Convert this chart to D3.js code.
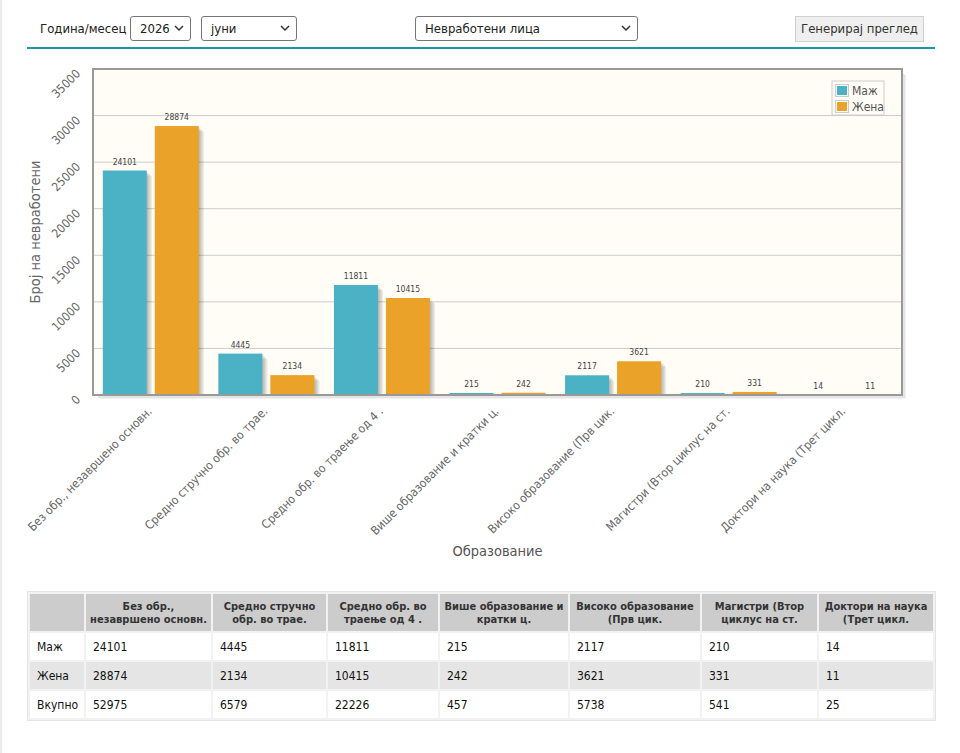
<!DOCTYPE html>
<html><head><meta charset="utf-8">
<script src="https://cdn.jsdelivr.net/npm/d3@7"></script>
<style>
body{margin:0;background:#fff;width:960px;height:753px;position:relative;overflow:hidden;font-family:"DejaVu Sans Condensed","DejaVu Sans",sans-serif;font-stretch:condensed;color:#222;}
.edge{position:absolute;left:0;top:0;width:2px;height:753px;background:#ebebeb;}
.lbl{position:absolute;left:40px;top:20px;font-size:13px;line-height:18px;color:#222;}
.sel{position:absolute;top:16px;height:23px;border:1px solid #767676;border-radius:3px;background:#fff;font-size:13px;line-height:23px;box-sizing:content-box;}
.sel span{position:absolute;left:9px;top:0;}
.sel svg{position:absolute;right:6px;top:8px;}
.btn{position:absolute;left:795px;top:16px;width:127px;height:24px;background:#efefef;border:1px solid #d0d0d0;font-size:13px;line-height:24px;text-align:center;color:#333;}
.rule{position:absolute;left:27px;top:47px;width:908px;height:2px;background:#1a97aa;}
#chart{position:absolute;left:0;top:0;}
table{position:absolute;left:27px;top:591px;border-collapse:separate;border-spacing:2px;border:1px solid #e4e4e4;background:#f2f2f2;table-layout:fixed;font-size:12px;}
th{background:#cccccc;font-weight:bold;font-size:11px;line-height:13px;color:#333;height:37px;padding:0 1px;text-align:center;}
td{height:27px;padding:0 0 0 7px;text-align:left;color:#111;}
tr.r1 td{background:#fff;}
tr.r2 td{background:#e5e5e5;}
tr.r3 td{background:#fff;}
</style></head><body>
<div class="edge"></div>
<div class="lbl">Година/месец</div>
<div class="sel" style="left:130px;width:59px;"><span>2026</span><svg width="10" height="7"><path d="M1,1 L5,5 L9,1" fill="none" stroke="#333" stroke-width="1.5"/></svg></div>
<div class="sel" style="left:201px;width:94px;"><span>јуни</span><svg width="10" height="7"><path d="M1,1 L5,5 L9,1" fill="none" stroke="#333" stroke-width="1.5"/></svg></div>
<div class="sel" style="left:415px;width:221px;"><span>Невработени лица</span><svg width="10" height="7"><path d="M1,1 L5,5 L9,1" fill="none" stroke="#333" stroke-width="1.5"/></svg></div>
<div class="btn">Генерирај преглед</div>
<div class="rule"></div>
<svg id="chart" width="960" height="580"></svg>
<table id="tbl"></table>
<script>
const categories = ["Без обр., незавршено основн.","Средно стручно обр. во трае.","Средно обр. во траење од 4 .","Више образование и кратки ц.","Високо образование (Прв цик.","Магистри (Втор циклус на ст.","Доктори на наука (Трет цикл."];
const tableHeaders = ["Без обр., незавршено основн.","Средно стручно обр. во трае.","Средно обр. во траење од 4 .","Више образование и кратки ц.","Високо образование (Прв цик.","Магистри (Втор циклус на ст.","Доктори на наука (Трет цикл."];
const seriesNames = ["Маж","Жена"];
const male = [24101,4445,11811,215,2117,210,14];
const female = [28874,2134,10415,242,3621,331,11];
const total = [52975,6579,22226,457,5738,541,25];
const yTicks = [0,5000,10000,15000,20000,25000,30000,35000];
const colors = ["#4bb2c5","#EAA228"];

const svg = d3.select("#chart");
const L=93,R=902,T=69,B=395;
const x0 = d3.scaleBand().domain(categories).range([L,R]).padding(0);
const x1 = d3.scaleBand().domain(seriesNames).range([-48,48]).paddingInner(0.1538);
const y = d3.scaleLinear().domain([0,35000]).range([B,T]);
const font = '"DejaVu Sans Condensed","DejaVu Sans",sans-serif';

for(let j=1;j<=3;j++){
  svg.append("path").attr("d",`M${R+j},${T+3+j} L${R+j},${B+j} L${L+3+j},${B+j}`)
    .attr("fill","none").attr("stroke","#000").attr("stroke-opacity",0.07).attr("stroke-width",1.5);
}
svg.append("rect").attr("x",L).attr("y",T).attr("width",R-L).attr("height",B-T).attr("fill","#fffdf6");
svg.append("g").selectAll("line").data(yTicks.filter(d=>d>0&&d<35000)).join("line")
  .attr("x1",L).attr("x2",R).attr("y1",d=>y(d)).attr("y2",d=>y(d)).attr("stroke","#cccccc").attr("stroke-width",1);

const data = categories.map((c,i)=>({c, vals:[{s:seriesNames[0],v:male[i],k:0},{s:seriesNames[1],v:female[i],k:1}]}));
svg.append("clipPath").attr("id","pc").append("rect").attr("x",L).attr("y",T).attr("width",R-L).attr("height",B-T);
const g = svg.append("g").attr("clip-path","url(#pc)");
const groups = g.selectAll("g.grp").data(data).join("g").attr("class","grp")
  .attr("transform",d=>`translate(${x0(d.c)+x0.bandwidth()/2},0)`);
for(let j=1;j<=4;j++){
  groups.selectAll("rect.sh"+j).data(d=>d.vals).join("rect").attr("class","sh"+j)
    .attr("x",d=>x1(d.s)+j*1.3).attr("y",d=>y(d.v)+j*1.3).attr("width",x1.bandwidth()).attr("height",d=>B-y(d.v))
    .attr("fill","#000").attr("fill-opacity",0.07);
}
groups.selectAll("rect.bar").data(d=>d.vals).join("rect").attr("class","bar")
  .attr("x",d=>x1(d.s)).attr("y",d=>y(d.v)).attr("width",x1.bandwidth()).attr("height",d=>B-y(d.v))
  .attr("fill",d=>colors[d.k]);
svg.append("g").selectAll("g").data(data).join("g")
  .attr("transform",d=>`translate(${x0(d.c)+x0.bandwidth()/2},0)`)
  .selectAll("text").data(d=>d.vals).join("text")
  .attr("x",d=>x1(d.s)+x1.bandwidth()/2).attr("y",d=>y(d.v)-6)
  .attr("text-anchor","middle").attr("font-family",font).attr("font-size",8.5).attr("fill","#444")
  .text(d=>d.v);
svg.append("rect").attr("x",L).attr("y",T).attr("width",R-L).attr("height",B-T)
  .attr("fill","none").attr("stroke","#999999").attr("stroke-width",2);

const yAxis = d3.axisLeft(y).tickValues(yTicks).tickSize(0).tickPadding(0).tickFormat(d3.format("d"));
const ya = svg.append("g").attr("transform",`translate(81,0)`).call(yAxis);
ya.select(".domain").remove();
ya.selectAll("text").attr("font-family",font).attr("font-size",12).attr("fill","#666")
  .attr("text-anchor","end").attr("x",0).attr("dy",0)
  .attr("transform","translate(0,5) rotate(-45)");

const xAxis = d3.axisBottom(x0).tickSize(0).tickPadding(0);
const xa = svg.append("g").attr("transform",`translate(2,412)`).call(xAxis);
xa.select(".domain").remove();
xa.selectAll("text").attr("font-family",font).attr("font-size",12).attr("fill","#666")
  .attr("text-anchor","end").attr("y",0).attr("dy",0).attr("transform","rotate(-45)");

svg.append("text").attr("transform",`translate(40,${(T+B)/2}) rotate(-90)`).attr("text-anchor","middle")
  .attr("font-family",font).attr("font-size",14.5).attr("fill","#666").text("Број на невработени");
svg.append("text").attr("x",(L+R)/2).attr("y",556).attr("text-anchor","middle")
  .attr("font-family",font).attr("font-size",14.5).attr("fill","#555").text("Образование");

const lg = svg.append("g").attr("transform","translate(832,81)");
lg.append("rect").attr("width",52).attr("height",34).attr("fill","#fffdf6").attr("stroke","#cccccc");
seriesNames.forEach((s,i)=>{
  const yy = 3+i*16;
  lg.append("rect").attr("x",3.5).attr("y",yy+0.5).attr("width",13).attr("height",12).attr("fill","#fff").attr("stroke","#cccccc");
  lg.append("rect").attr("x",5).attr("y",yy+2).attr("width",10).attr("height",9).attr("fill",colors[i]);
  lg.append("text").attr("x",20).attr("y",yy+11).attr("font-family",font).attr("font-size",12).attr("fill","#555").text(s);
});

const widths=[54,125,113,110,128,130,115,114];
const tbl = d3.select("#tbl");
const cg = tbl.append("colgroup");
widths.forEach(w=>cg.append("col").style("width",w+"px"));
const hr = tbl.append("tr");
hr.append("th").text("");
tableHeaders.forEach(h=>hr.append("th").text(h));
const rows=[["Маж",male],["Жена",female],["Вкупно",total]];
rows.forEach((r,i)=>{
  const tr = tbl.append("tr").attr("class","r"+(i+1));
  tr.append("td").text(r[0]);
  r[1].forEach(v=>tr.append("td").text(v));
});
</script>
</body></html>
